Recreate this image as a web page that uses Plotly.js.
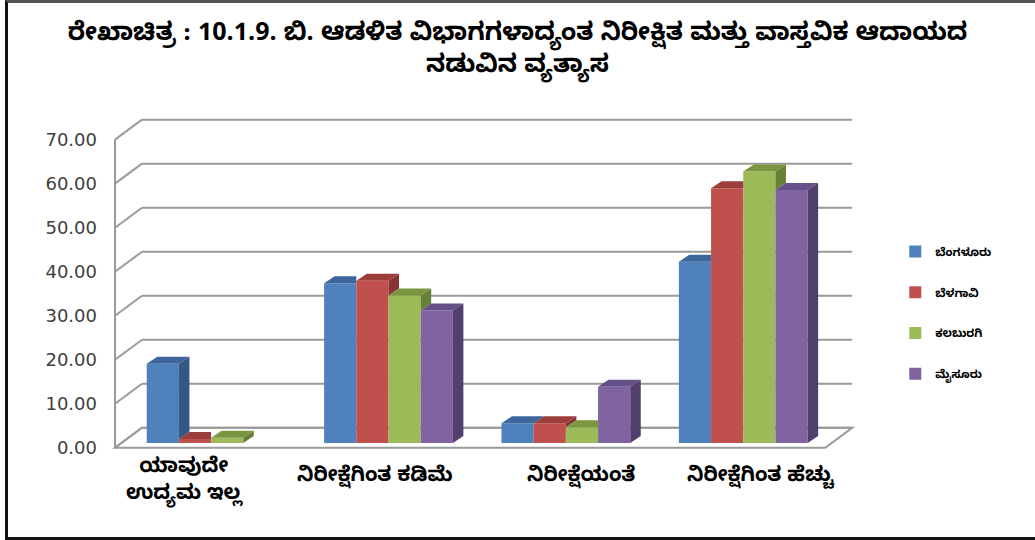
<!DOCTYPE html>
<html>
<head>
<meta charset="utf-8">
<script src="https://cdn.plot.ly/plotly-3.0.1.min.js"></script>
<style>
  html, body { margin: 0; padding: 0; background: #ffffff; overflow: hidden; }
  #chart { position: absolute; left: 0; top: 0; width: 1035px; height: 540px; }
  #frame { position: absolute; left: 5px; top: 0; width: 1040px; height: 534px;
           border-left: 3px solid #111; border-top: 3px solid #555; border-bottom: 3px solid #111;
           pointer-events: none; }
</style>
</head>
<body>
<div id="chart"></div>
<div id="frame"></div>
<script>
// ---- data ----
const TITLE = 'ರೇಖಾಚಿತ್ರ : 10.1.9. ಬಿ. ಆಡಳಿತ ವಿಭಾಗಗಳಾದ್ಯಂತ ನಿರೀಕ್ಷಿತ ಮತ್ತು ವಾಸ್ತವಿಕ ಆದಾಯದ<br>ನಡುವಿನ ವ್ಯತ್ಯಾಸ';
const CATEGORIES = ['ಯಾವುದೇ<br>ಉದ್ಯಮ ಇಲ್ಲ', 'ನಿರೀಕ್ಷೆಗಿಂತ ಕಡಿಮೆ', 'ನಿರೀಕ್ಷೆಯಂತೆ', 'ನಿರೀಕ್ಷೆಗಿಂತ ಹೆಚ್ಚು'];
const SERIES_NAMES = ['ಬೆಂಗಳೂರು', 'ಬೆಳಗಾವಿ', 'ಕಲಬುರಗಿ', 'ಮೈಸೂರು'];
const BENGALURU  = [18.0, 36.3, 4.5, 41.2];
const BELAGAVI   = [0.9, 36.9, 4.5, 57.9];
const KALABURAGI = [1.2, 33.5, 3.6, 61.7];
const MYSURU     = [0.0, 30.1, 12.8, 57.5];
const Y_TICKS = [0, 10, 20, 30, 40, 50, 60, 70];

const SERIES = [BENGALURU, BELAGAVI, KALABURAGI, MYSURU];

// ---- style ----
const FRONT = ['#4F81BD', '#C0504D', '#9BBB59', '#8064A2'];
const TOP   = ['#3D679C', '#9C3E3B', '#7A9640', '#65508A'];
const SIDE  = ['#345783', '#873432', '#687F37', '#523F6E'];
const KN_FONT = '"Noto Sans Kannada", "Noto Sans", "Noto Serif Kannada", sans-serif';

// ---- pseudo-3D geometry (data units) ----
const X_RANGE = [-0.57, 3.63];
const Y_RANGE = [-3, 76.05];
const BAR_W = 0.1815;
const BAR_DX = 0.0592, BAR_DY = 1.59;
const BAR_BASE = 1.07;
const WALL_DX = 0.152, WALL_DY = 4.54;
const XL = -0.5418;
const XR = 3.614;
const XFR = XR - WALL_DX;
const LABEL_SHIFT = [-27, -13, 15, 18];

const idx = CATEGORIES.map((c, i) => i);
const traces = [];

// front faces as bars
SERIES.forEach((vals, k) => {
  traces.push({
    type: 'bar', name: SERIES_NAMES[k], x: idx, y: vals,
    base: BAR_BASE, width: BAR_W, offset: (-2 + k) * BAR_W,
    marker: { color: FRONT[k], line: { width: 0 } },
    legendgroup: 'g' + k, hoverinfo: 'name+y'
  });
});

// top and side faces
SERIES.forEach((vals, k) => {
  const tx = [], ty = [], sx = [], sy = [];
  idx.forEach(i => {
    const v = vals[i];
    if (!(v > 0)) return;
    const x0 = i + (-2 + k) * BAR_W, x1 = x0 + BAR_W;
    const h = BAR_BASE + v;
    const hn = k < 3 ? BAR_BASE + SERIES[k + 1][i] : null;
    if (hn !== null && hn > h) {
      tx.push(x0, x1, x1, x0 + BAR_DX, null);
      ty.push(h, h, h + BAR_DY, h + BAR_DY, null);
    } else {
      tx.push(x0, x1, x1 + BAR_DX, x0 + BAR_DX, null);
      ty.push(h, h, h + BAR_DY, h + BAR_DY, null);
    }
    const lower = hn === null ? BAR_BASE : Math.max(BAR_BASE, hn);
    if (h > lower) {
      sx.push(x1, x1, x1 + BAR_DX, x1 + BAR_DX, null);
      sy.push(lower, h, h + BAR_DY, lower + BAR_DY, null);
    }
  });
  traces.push({ type: 'scatter', mode: 'lines', x: tx, y: ty, fill: 'toself', fillcolor: TOP[k],
    line: { width: 0, color: TOP[k] }, showlegend: false, hoverinfo: 'skip' });
  traces.push({ type: 'scatter', mode: 'lines', x: sx, y: sy, fill: 'toself', fillcolor: SIDE[k],
    line: { width: 0, color: SIDE[k] }, showlegend: false, hoverinfo: 'skip' });
});

// walls and floor as shapes below traces
const GRID = { color: '#9a9a9a', width: 2 };
const shapes = [];
shapes.push({ type: 'path', xref: 'x', yref: 'y', layer: 'below',
  path: `M${XL},0 L${XFR},0 L${XR},${WALL_DY} L${XL + WALL_DX},${WALL_DY} Z`,
  fillcolor: '#ffffff', line: GRID });
Y_TICKS.forEach(v => {
  shapes.push({ type: 'line', xref: 'x', yref: 'y', layer: 'below',
    x0: XL, y0: v, x1: XL + WALL_DX, y1: v + WALL_DY, line: GRID });
  shapes.push({ type: 'line', xref: 'x', yref: 'y', layer: 'below',
    x0: XL + WALL_DX, y0: v + WALL_DY, x1: XR, y1: v + WALL_DY, line: GRID });
});
shapes.push({ type: 'line', xref: 'x', yref: 'y', layer: 'below',
  x0: XL, y0: 0, x1: XL, y1: Y_TICKS[Y_TICKS.length - 1], line: GRID });

// category labels
const annotations = CATEGORIES.map((c, i) => ({
  text: c, x: i, xref: 'x', y: i === 0 ? -0.062 : -0.049, yref: 'paper',
  xanchor: 'center', yanchor: 'middle', xshift: LABEL_SHIFT[i], showarrow: false,
  font: { family: KN_FONT, size: 20.5, color: '#000', weight: 'bold' }
}));

const layout = {
  width: 1035, height: 540,
  margin: { l: 110, r: 180, t: 113, b: 79 },
  paper_bgcolor: '#ffffff', plot_bgcolor: 'rgba(0,0,0,0)',
  barmode: 'overlay',
  title: { text: TITLE, x: 0.5, xanchor: 'center', xref: 'container', yref: 'container',
    y: 0.926, yanchor: 'middle',
    font: { family: KN_FONT, size: 25, color: '#000', weight: 'bold' } },
  xaxis: { range: X_RANGE, showgrid: false, zeroline: false, showline: false,
    showticklabels: false, ticks: '', fixedrange: true },
  yaxis: { range: Y_RANGE, tickvals: Y_TICKS, tickformat: '.2f', showgrid: false, zeroline: false,
    showline: false, ticks: '', ticklabelstandoff: 12,
    tickfont: { family: '"DejaVu Sans", sans-serif', size: 18, color: '#404040' } },
  legend: { xref: 'container', yref: 'container', x: 0.865, y: 0.561, xanchor: 'left', yanchor: 'top',
    tracegroupgap: 21.7, traceorder: 'grouped',
    font: { family: KN_FONT, size: 11.5, color: '#000', weight: 'bold' } },
  shapes: shapes, annotations: annotations, showlegend: true
};

Plotly.newPlot('chart', traces, layout, { displayModeBar: false, staticPlot: true });
</script>
</body>
</html>
